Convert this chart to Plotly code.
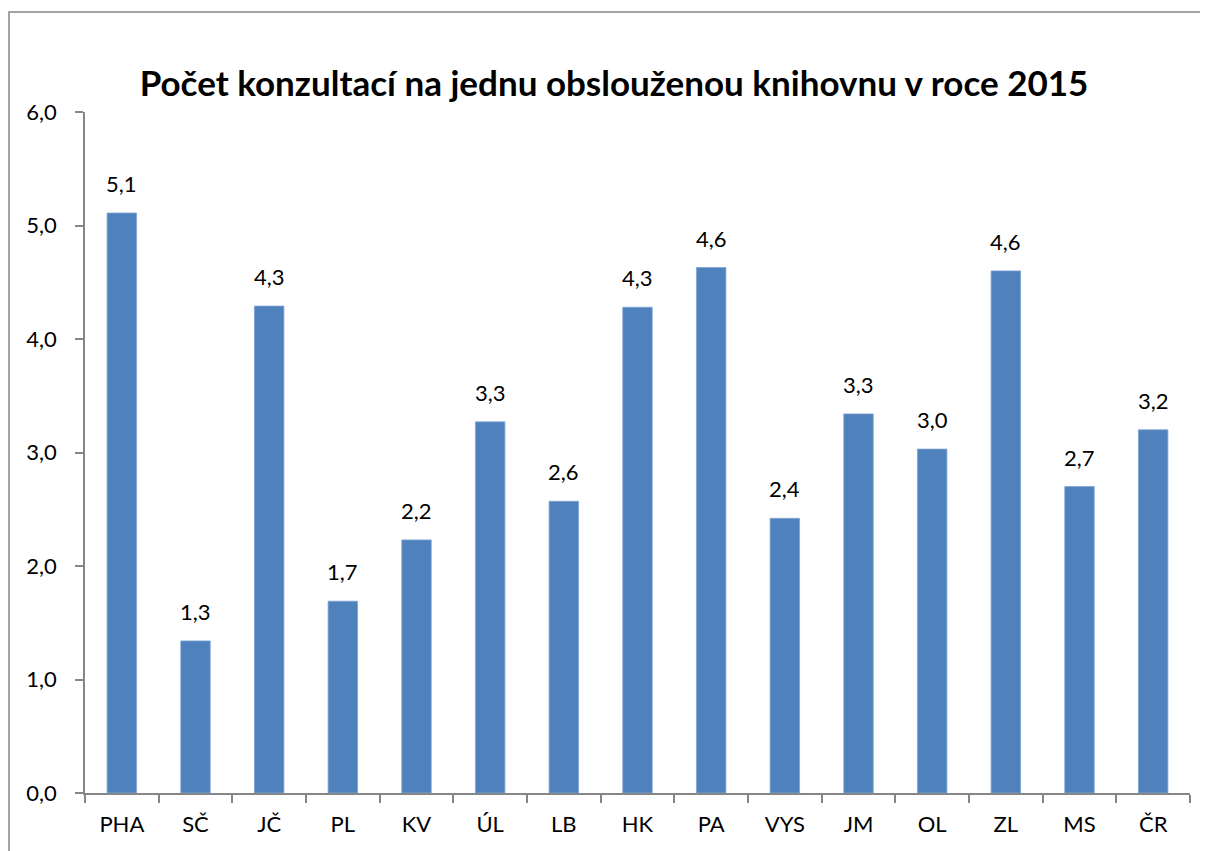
import plotly.graph_objects as go

categories = ["PHA", "SČ", "JČ", "PL", "KV", "ÚL", "LB", "HK", "PA", "VYS", "JM", "OL", "ZL", "MS", "ČR"]
values = [5.11, 1.34, 4.29, 1.69, 2.23, 3.27, 2.57, 4.28, 4.63, 2.42, 3.34, 3.03, 4.60, 2.70, 3.20]
title_text = "Počet konzultací na jednu obslouženou knihovnu v roce 2015"

font_family = "Lato, 'Open Sans', sans-serif"
axis_color = "#868686"

# page body has ~8px margin; compensate
OFF = 8
W, H = 1208 - OFF, 851 - OFF
ML, MR, MT, MB = 85 - OFF, 18, 112 - OFF, 58
PW, PH = W - ML - MR, H - MT - MB

fig = go.Figure(
    go.Bar(
        x=categories,
        y=values,
        marker=dict(color="#4F81BD", line=dict(color="#7FA3D3", width=0.8)),
        width=0.4,
        hoverinfo="x+y",
    )
)

for c, v in zip(categories, values):
    fig.add_annotation(
        x=c,
        y=v,
        text=f"{v:.1f}".replace(".", ","),
        showarrow=False,
        yanchor="bottom",
        yshift=14,
        font=dict(family=font_family, size=22, color="#000000"),
    )

fig.update_layout(
    width=W,
    height=H,
    autosize=False,
    separators=", ",
    paper_bgcolor="white",
    plot_bgcolor="white",
    margin=dict(l=ML, r=MR, t=MT, b=MB),
    showlegend=False,
    title=dict(
        text="<b>" + title_text + "</b>",
        x=(614 - OFF) / W,
        xanchor="center",
        y=1 - (84 - OFF) / H,
        yanchor="middle",
        font=dict(family=font_family, size=35, color="#000000"),
    ),
    font=dict(family=font_family, size=22, color="#000000"),
    xaxis=dict(
        type="category",
        showline=True,
        linecolor=axis_color,
        linewidth=1.5,
        ticks="outside",
        tickson="boundaries",
        ticklen=8,
        tickcolor=axis_color,
        tickwidth=1.5,
        showgrid=False,
        ticklabelstandoff=11,
        tickfont=dict(family=font_family, size=22, color="#000000"),
    ),
    yaxis=dict(
        range=[0, 6],
        dtick=1,
        tickformat=".1f",
        showline=True,
        linecolor=axis_color,
        linewidth=1.5,
        ticks="outside",
        ticklen=8,
        tickcolor=axis_color,
        tickwidth=1.5,
        showgrid=False,
        zeroline=False,
        ticklabelstandoff=14,
        tickfont=dict(family=font_family, size=22, color="#000000"),
    ),
    shapes=[
        dict(
            type="rect",
            xref="paper",
            yref="paper",
            x0=(9 - OFF - ML) / PW,
            x1=1.2,
            y0=-0.2,
            y1=(H - (12 - OFF) - MB) / PH,
            line=dict(color="#868686", width=1.5),
            fillcolor="rgba(0,0,0,0)",
            layer="above",
        )
    ],
)

fig.write_html("out.html")
